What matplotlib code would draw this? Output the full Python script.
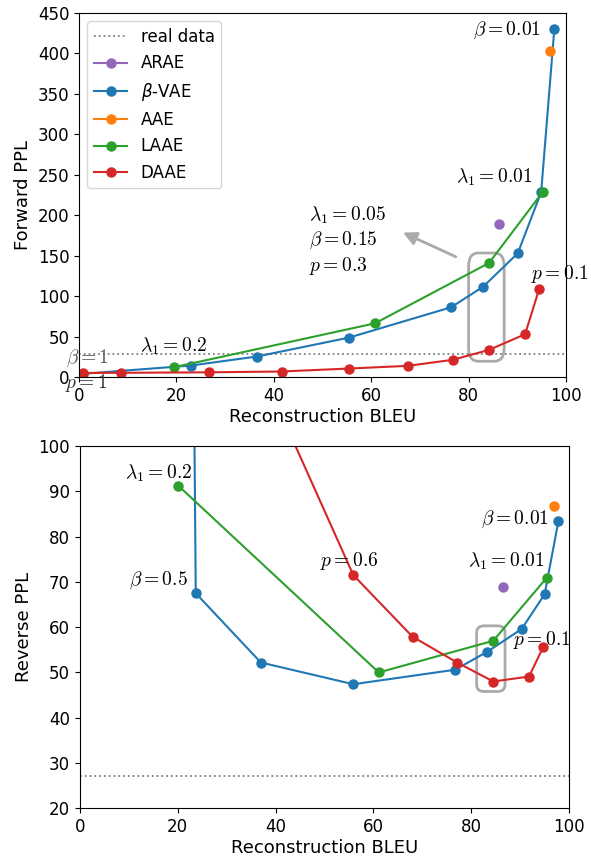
import numpy as np
import matplotlib
matplotlib.use('Agg')
import matplotlib.pyplot as plt
from matplotlib.patches import FancyBboxPatch

# real data level
real_fwd = 28.5
real_rev = 27.2

# beta-VAE
vae_bleu = [0.9, 23.0, 36.5, 55.5, 76.4, 83.0, 90.1, 94.9, 97.6]
vae_fwd = [4.0, 14.2, 25.3, 48.8, 86.2, 111.7, 153.0, 228.6, 429.9]
vae_bleu_r = [0.9, 23.7, 37.0, 55.9, 76.7, 83.3, 90.3, 95.0, 97.8]
vae_rev = [3000.0, 67.5, 52.2, 47.4, 50.6, 54.6, 59.6, 67.3, 83.4]

# LAAE
laae_bleu = [19.5, 60.8, 84.2, 95.2]
laae_fwd = [12.1, 66.4, 141.0, 228.6]
laae_bleu_r = [20.1, 61.1, 84.5, 95.4]
laae_rev = [91.3, 50.0, 57.0, 70.9]

# DAAE
daae_bleu = [0.9, 8.6, 26.6, 41.6, 55.5, 67.5, 76.7, 84.2, 91.6, 94.5]
daae_fwd = [5.0, 5.2, 5.8, 6.8, 10.5, 13.8, 21.2, 33.5, 52.9, 109.0]
daae_bleu_r = [0.9, 8.6, 26.6, 41.6, 55.9, 68.0, 77.1, 84.5, 91.8, 94.7]
daae_rev = [500.0, 300.0, 160.0, 106.0, 71.5, 57.9, 52.2, 48.0, 49.1, 55.6]

# single points
aae_bleu, aae_fwd, aae_bleu_r, aae_rev = 96.8, 403.0, 97.0, 86.8
arae_bleu, arae_fwd, arae_bleu_r, arae_rev = 86.3, 189.5, 86.5, 68.8

fig = plt.figure(figsize=(5.91, 8.58), dpi=100)
ax1 = fig.add_axes([0.1337, 0.5606, 0.824, 0.4242])
ax2 = fig.add_axes([0.135, 0.058, 0.828, 0.422])

ms = 6.5
lfs = 14  # annotation size

def note(ax, x, y, s, **kw):
    kw.setdefault('ha', 'center')
    kw.setdefault('va', 'center')
    ax.text(x, y, s, fontsize=lfs, math_fontfamily='cm', **kw)

def draw(ax, vb, vy, lb, ly, db, dy, ab, ay, rb, ry, real):
    ax.axhline(real, color='gray', linestyle=':', lw=1.3, label='real data')
    ax.plot(rb, ry, 'o', color='tab:purple', ms=ms, label='ARAE')
    ax.plot(vb, vy, 'o-', color='tab:blue', ms=ms, label=r'$\beta$-VAE')
    ax.plot(ab, ay, 'o', color='tab:orange', ms=ms, label='AAE')
    ax.plot(lb, ly, 'o-', color='tab:green', ms=ms, label='LAAE')
    ax.plot(db, dy, 'o-', color='tab:red', ms=ms, label='DAAE')
    ax.set_xlim(0, 100)
    ax.set_xticks(np.arange(0, 101, 20))
    ax.tick_params(labelsize=12)
    ax.set_xlabel('Reconstruction BLEU', fontsize=13, labelpad=2)

draw(ax1, vae_bleu, vae_fwd, laae_bleu, laae_fwd, daae_bleu, daae_fwd,
     aae_bleu, aae_fwd, arae_bleu, arae_fwd, real_fwd)
ax1.set_ylim(0, 450)
ax1.set_yticks(np.arange(0, 451, 50))
ax1.set_ylabel('Forward PPL', fontsize=13)
leg = ax1.legend(loc='upper left', fontsize=12)
# marker-only series still show a line in the legend
for h in leg.get_lines()[1:]:
    h.set_linestyle('-')

note(ax1, 94.9, 429, r'$\beta=0.01$', ha='right')
note(ax1, 93.1, 246.6, r'$\lambda_1=0.01$', ha='right')
note(ax1, 19.5, 38, r'$\lambda_1=0.2$')
note(ax1, 1.8, 23.7, r'$\beta=1$', color='#555555')
note(ax1, 1.5, -7.2, r'$p=1$', color='#333333')
note(ax1, 92.8, 127.8, r'$p=0.1$', ha='left')
note(ax1, 47.3, 168.5, '$\\lambda_1=0.05$\n$\\beta=0.15$\n$p=0.3$', ha='left',
     linespacing=1.25)
ax1.annotate('', xy=(66.0, 180.0), xytext=(77.9, 147.2),
             arrowprops=dict(arrowstyle='-|>,head_width=0.4,head_length=0.8',
                             color='#aaaaaa', lw=2))
ax1.add_patch(FancyBboxPatch((80.0, 19.5), 7.3, 133.8,
                             boxstyle='round,pad=0,rounding_size=2',
                             mutation_aspect=8, fill=False, ec='#aaaaaa', lw=2))

draw(ax2, vae_bleu_r, vae_rev, laae_bleu_r, laae_rev, daae_bleu_r, daae_rev,
     aae_bleu_r, aae_rev, arae_bleu_r, arae_rev, real_rev)
ax2.set_ylim(20, 100)
ax2.set_yticks(np.arange(20, 101, 10))
ax2.set_ylabel('Reverse PPL', fontsize=13)

note(ax2, 23.0, 93.9, r'$\lambda_1=0.2$', ha='right')
note(ax2, 22.1, 70.3, r'$\beta=0.5$', ha='right')
note(ax2, 55.0, 74.6, r'$p=0.6$')
note(ax2, 95.8, 83.8, r'$\beta=0.01$', ha='right')
note(ax2, 94.9, 74.6, r'$\lambda_1=0.01$', ha='right')
note(ax2, 88.5, 57.2, r'$p=0.1$', ha='left')
ax2.add_patch(FancyBboxPatch((81.1, 45.8), 5.8, 14.5,
                             boxstyle='round,pad=0,rounding_size=1.5',
                             mutation_aspect=1, fill=False, ec='#aaaaaa', lw=2))

fig.savefig('out.png', dpi=100)
